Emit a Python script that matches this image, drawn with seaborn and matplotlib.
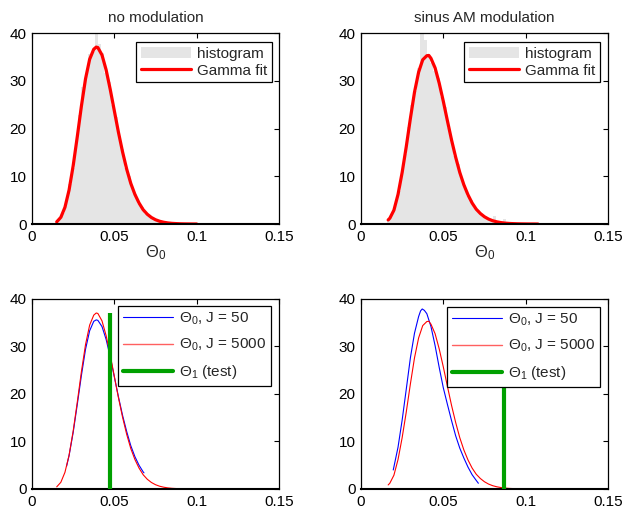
"""
Null distributions of the test statistic Theta_0 (histogram + Gamma fit) and
comparison of the fits for J = 50 / J = 5000 against the observed Theta_1.
"""
import numpy as np
import pandas as pd
import matplotlib
matplotlib.use("Agg")
import matplotlib.pyplot as plt
import seaborn as sns
from matplotlib.lines import Line2D
from matplotlib.patches import Patch

# ---- histogram of Theta_0 (bin centres, bin width 0.002) ----
hist_x_nomod = [0.015, 0.017, 0.019, 0.021, 0.023, 0.025, 0.027, 0.029, 0.031, 0.033,
                0.035, 0.037, 0.039, 0.041, 0.043, 0.045, 0.047, 0.049, 0.051, 0.053,
                0.055, 0.057, 0.059, 0.061, 0.063, 0.065, 0.067, 0.069, 0.071, 0.073,
                0.075, 0.077, 0.079, 0.081, 0.083, 0.085]
hist_y_nomod = [0.3, 1.1, 2.3, 4.6, 8.4, 11.8, 17.6, 22.9, 28.6, 30.9,
                35.6, 36.0, 40.0, 37.8, 35.9, 31.6, 29.8, 25.0, 22.4, 18.0,
                15.7, 11.8, 10.1, 7.3, 6.2, 4.1, 3.5, 2.2, 1.9, 1.1,
                1.0, 0.5, 0.4, 0.2, 0.1, 0.1]

hist_x_am = [0.017, 0.019, 0.021, 0.023, 0.025, 0.027, 0.029, 0.031, 0.033, 0.035,
             0.037, 0.039, 0.041, 0.043, 0.045, 0.047, 0.049, 0.051, 0.053, 0.055,
             0.057, 0.059, 0.061, 0.063, 0.065, 0.067, 0.069, 0.071, 0.073, 0.075,
             0.077, 0.079, 0.081, 0.083, 0.085, 0.087, 0.089]
hist_y_am = [0.9, 2.0, 4.5, 7.0, 11.3, 14.6, 20.3, 24.9, 27.8, 32.6,
             40.0, 38.5, 34.9, 33.8, 32.1, 30.6, 26.5, 24.6, 20.2, 18.0,
             14.3, 12.5, 9.4, 8.2, 5.8, 5.0, 3.3, 2.9, 1.8, 1.6,
             1.0, 0.7, 1.6, 0.4, 0.3, 1.1, 0.2]

# ---- Gamma fits, J = 5000 ----
fit_x_nomod = [0.015, 0.0175, 0.02, 0.0225, 0.025, 0.0275, 0.03, 0.0325, 0.035, 0.0375,
               0.039, 0.04, 0.0425, 0.045, 0.0475, 0.05, 0.0525, 0.055, 0.0575, 0.06,
               0.0625, 0.065, 0.0675, 0.07, 0.0725, 0.075, 0.0775, 0.08, 0.0825, 0.085,
               0.0875, 0.09, 0.0925, 0.095, 0.0975, 0.1]
fit_y_nomod = [0.45, 1.4, 3.5, 7.1, 12.2, 18.3, 24.7, 30.4, 34.5, 36.6,
               37.05, 36.95, 35.4, 32.3, 28.2, 23.7, 19.2, 15.1, 11.5, 8.5,
               6.2, 4.4, 3.0, 2.05, 1.37, 0.9, 0.58, 0.37, 0.23, 0.14,
               0.09, 0.05, 0.03, 0.02, 0.01, 0.01]

fit_x_am = [0.0165, 0.0175, 0.02, 0.0225, 0.025, 0.0275, 0.03, 0.0325, 0.035, 0.0375,
            0.04, 0.0412, 0.0425, 0.045, 0.0475, 0.05, 0.0525, 0.055, 0.0575, 0.06,
            0.0625, 0.065, 0.0675, 0.07, 0.0725, 0.075, 0.0775, 0.08, 0.0825, 0.085,
            0.0875, 0.09, 0.0925, 0.095, 0.0975, 0.1, 0.1025, 0.105, 0.1075]
fit_y_am = [0.85, 1.2, 2.9, 6.2, 10.8, 16.2, 22.1, 27.6, 31.8, 34.4,
            35.25, 35.3, 34.7, 32.7, 29.5, 25.7, 21.6, 17.6, 14.0, 10.8,
            8.2, 6.1, 4.4, 3.1, 2.2, 1.52, 1.03, 0.69, 0.46, 0.3,
            0.19, 0.12, 0.08, 0.05, 0.03, 0.02, 0.01, 0.01, 0.0]

# ---- Gamma fits, J = 50 ----
j50_x_nomod = [0.021, 0.0225, 0.025, 0.0275, 0.03, 0.0325, 0.035, 0.0375, 0.039, 0.04,
               0.0425, 0.045, 0.0475, 0.05, 0.0525, 0.055, 0.0575, 0.06, 0.0625, 0.065,
               0.0675, 0.068]
j50_y_nomod = [4.8, 7.0, 11.9, 17.8, 23.9, 29.4, 33.3, 35.3, 35.6, 35.5,
               34.2, 31.5, 27.8, 23.6, 19.4, 15.5, 12.1, 9.1, 6.8, 5.0,
               3.6, 3.4]

j50_x_am = [0.0196, 0.0225, 0.025, 0.0275, 0.03, 0.0325, 0.035, 0.0362, 0.0372, 0.0385,
            0.04, 0.0425, 0.045, 0.0475, 0.05, 0.0525, 0.055, 0.0575, 0.06, 0.0625,
            0.065, 0.0675, 0.07, 0.0713]
j50_y_am = [4.0, 8.8, 14.5, 21.0, 27.6, 32.8, 36.3, 37.5, 37.9, 37.6,
            36.9, 34.2, 30.2, 25.6, 21.3, 17.8, 14.4, 11.2, 8.6, 6.5,
            4.6, 3.0, 1.8, 1.2]

# ---- observed test statistic Theta_1 ----
theta1 = [0.0474, 0.087]
theta1_height = [37.0, 35.3]

titles = ["no modulation", "sinus AM modulation"]

GRAY = "#e5e5e5"
GREEN = "#00a000"
FS = 11

sns.set_theme(style="white")
plt.rcParams["font.family"] = ["Liberation Sans", "DejaVu Sans"]
plt.rcParams["mathtext.fontset"] = "custom"
plt.rcParams["mathtext.rm"] = "Liberation Sans"
plt.rcParams["mathtext.it"] = "Liberation Sans:italic"


def style_axes(ax):
    ax.set_xlim(0, 0.15)
    ax.set_ylim(0, 40)
    ax.set_xticks([0, 0.05, 0.1, 0.15])
    ax.set_xticklabels(["0", "0.05", "0.1", "0.15"])
    ax.set_yticks([0, 10, 20, 30, 40])
    ax.tick_params(direction="in", top=True, right=True, length=3.5, width=0.8,
                   labelsize=FS, pad=4, colors="black")
    for sp in ax.spines.values():
        sp.set_visible(True)
        sp.set_color("black")
        sp.set_linewidth(0.9)
    ax.spines["bottom"].set_linewidth(1.5)
    ax.set_xlabel("")
    ax.set_ylabel("")


def add_legend(ax, handles, labels, anchor, spacing):
    leg = ax.legend(handles, labels, loc="upper right", bbox_to_anchor=anchor,
                    borderaxespad=0, fancybox=False, framealpha=1, edgecolor="black",
                    fontsize=FS, handlelength=3.3, handletextpad=0.4,
                    labelspacing=spacing, borderpad=0.3)
    leg.get_frame().set_linewidth(0.9)
    leg.set_zorder(10)


fig = plt.figure(figsize=(6.24, 5.11), dpi=100)
axes = {
    "tl": fig.add_axes([0.0513, 0.5616, 0.3958, 0.3738]),
    "tr": fig.add_axes([0.5785, 0.5616, 0.3958, 0.3738]),
    "bl": fig.add_axes([0.0513, 0.0431, 0.3958, 0.3718]),
    "br": fig.add_axes([0.5785, 0.0431, 0.3958, 0.3718]),
}

top = [("tl", hist_x_nomod, hist_y_nomod, fit_x_nomod, fit_y_nomod, 0.9717),
       ("tr", hist_x_am, hist_y_am, fit_x_am, fit_y_am, 0.9676)]
for i, (key, hx, hy, fx, fy, ax_anchor) in enumerate(top):
    ax = axes[key]
    hist_df = pd.DataFrame({"theta": hx, "density": hy})
    edges = list(np.append(np.array(hx) - 0.001, hx[-1] + 0.001))
    sns.histplot(data=hist_df, x="theta", weights="density", bins=edges, ax=ax,
                 color=GRAY, edgecolor="none", alpha=1, linewidth=0)
    sns.lineplot(x=fx, y=fy, ax=ax, color="red", linewidth=2.3, estimator=None,
                 sort=False, legend=False)
    style_axes(ax)
    ax.set_title(titles[i], fontsize=FS, pad=8)
    ax.set_xlabel("Θ$_0$", fontsize=FS + 1, labelpad=0)
    handles = [Patch(facecolor=GRAY, edgecolor="none"),
               Line2D([], [], color="red", linewidth=2.3)]
    add_legend(ax, handles, ["histogram", "Gamma fit"], (ax_anchor, 0.953), 0.2)

bottom = [("bl", j50_x_nomod, j50_y_nomod, fit_x_nomod, fit_y_nomod, (0.9676, 0.963)),
          ("br", j50_x_am, j50_y_am, fit_x_am, fit_y_am, (0.9676, 0.958))]
for i, (key, bx, by, rx, ry, anchor) in enumerate(bottom):
    ax = axes[key]
    sns.lineplot(x=bx, y=by, ax=ax, color="blue", linewidth=0.8, estimator=None,
                 sort=False, legend=False)
    sns.lineplot(x=rx, y=ry, ax=ax, color="red", linewidth=0.8, estimator=None,
                 sort=False, legend=False)
    ax.vlines(theta1[i], 0, theta1_height[i], color=GREEN, linewidth=3, zorder=3)
    style_axes(ax)
    handles = [Line2D([], [], color="blue", linewidth=0.8),
               Line2D([], [], color="#ff6060", linewidth=1.0),
               Line2D([], [], color=GREEN, linewidth=3)]
    add_legend(ax, handles, ["Θ$_0$, J = 50", "Θ$_0$, J = 5000", "Θ$_1$ (test)"],
               anchor, 0.65)

fig.savefig("out.png", dpi=100)
